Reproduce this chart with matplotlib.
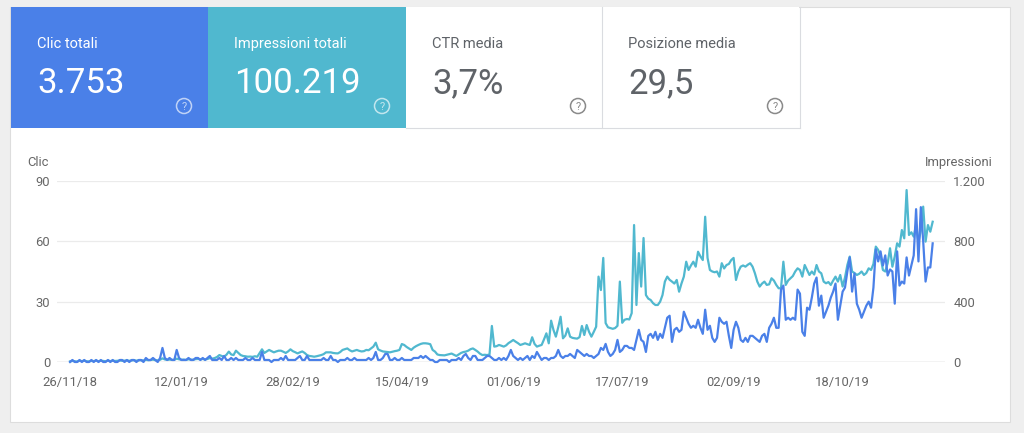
import numpy as np
import pandas as pd
import matplotlib
matplotlib.use('Agg')
from matplotlib import pyplot as plt
from matplotlib.patches import Rectangle, Circle
import matplotlib.dates as mdates

plt.rcParams['font.family'] = ['Roboto', 'DejaVu Sans']

##################
# Summary cards
card_titles = ['Clic totali', 'Impressioni totali', 'CTR media', 'Posizione media']
card_values = ['3.753', '100.219', '3,7%', '29,5']

##################
# Daily series (26/11/18 onwards)
start_date = '2018-11-26'

clicks = [
    0, 1, 0, 0, 1, 0, 1, 0, 0, 1,
    0, 1, 0, 1, 0, 0, 1, 0, 1, 0,
    0, 1, 1, 0, 1, 0, 1, 1, 0, 1,
    1, 0, 2, 1, 1, 2, 1, 0, 2, 7,
    2, 1, 2, 1, 1, 6, 2, 1, 1, 1,
    2, 1, 1, 2, 2, 1, 2, 1, 2, 3,
    1, 1, 1, 2, 1, 3, 1, 1, 2, 1,
    2, 1, 1, 1, 2, 1, 1, 2, 1, 1,
    1, 5, 1, 1, 1, 0, 1, 1, 1, 2,
    1, 3, 1, 1, 1, 1, 2, 3, 1, 1,
    3, 1, 1, 1, 1, 1, 1, 2, 1, 1,
    3, 1, 1, 0, 1, 1, 1, 2, 1, 1,
    2, 1, 1, 1, 1, 1, 2, 1, 2, 5,
    1, 1, 2, 4, 4, 1, 1, 2, 1, 1,
    2, 1, 1, 1, 1, 2, 2, 2, 3, 2,
    3, 2, 1, 1, 0, 0, 1, 1, 1, 1,
    0, 1, 1, 1, 2, 1, 3, 4, 2, 1,
    3, 3, 1, 1, 1, 2, 3, 3, 2, 1,
    1, 2, 1, 2, 1, 3, 6, 3, 2, 1,
    2, 1, 2, 3, 1, 3, 2, 5, 3, 1,
    2, 2, 1, 2, 2, 3, 6, 3, 2, 3,
    3, 4, 3, 2, 6, 5, 4, 3, 4, 3,
    3, 2, 3, 4, 7, 6, 9, 5, 3, 4,
    6, 11, 5, 6, 8, 8, 7, 7, 6, 11,
    16, 11, 10, 5, 13, 14, 12, 15, 11, 14,
    12, 17, 22, 23, 10, 16, 17, 15, 16, 25,
    22, 19, 17, 18, 17, 21, 17, 14, 26, 16,
    18, 12, 10, 12, 22, 20, 19, 20, 13, 7,
    16, 20, 17, 11, 10, 12, 10, 13, 13, 12,
    11, 10, 13, 14, 10, 17, 19, 22, 17, 17,
    36, 38, 21, 22, 21, 22, 21, 36, 34, 15,
    13, 27, 26, 32, 39, 42, 28, 33, 22, 25,
    28, 32, 35, 39, 21, 28, 35, 37, 45, 52,
    35, 44, 29, 26, 22, 25, 28, 30, 27, 37,
    56, 50, 55, 48, 53, 43, 46, 45, 29, 55,
    38, 40, 39, 52, 43, 48, 53, 76, 50, 77,
    60, 40, 47, 47, 59,
]

impressions = [
    4, 7, 5, 3, 8, 6, 8, 5, 4, 7,
    6, 9, 5, 8, 7, 5, 9, 6, 8, 7,
    8, 10, 8, 9, 11, 8, 10, 12, 9, 11,
    12, 10, 14, 12, 13, 16, 12, 11, 15, 24,
    17, 14, 16, 14, 15, 22, 18, 15, 16, 14,
    18, 16, 15, 19, 20, 18, 20, 17, 20, 26,
    22, 26, 33, 46, 40, 35, 48, 69, 50, 46,
    75, 60, 46, 40, 38, 35, 36, 34, 38, 35,
    60, 84, 60, 70, 80, 72, 64, 70, 75, 75,
    68, 60, 70, 84, 72, 65, 57, 64, 70, 60,
    46, 40, 38, 35, 38, 42, 46, 52, 64, 64,
    64, 60, 58, 57, 66, 80, 85, 90, 78, 70,
    75, 80, 74, 70, 72, 80, 78, 90, 102, 128,
    84, 76, 70, 68, 66, 64, 68, 72, 75, 80,
    119, 113, 100, 90, 80, 95, 105, 113, 120, 124,
    124, 122, 118, 80, 69, 50, 46, 45, 44, 48,
    52, 56, 48, 40, 50, 60, 66, 69, 75, 85,
    90, 80, 69, 55, 46, 48, 46, 50, 239, 102,
    105, 113, 108, 102, 110, 125, 135, 146, 135, 125,
    113, 118, 124, 118, 113, 164, 120, 102, 108, 113,
    150, 190, 124, 274, 212, 168, 230, 300, 157, 175,
    223, 168, 160, 157, 155, 165, 239, 179, 245, 200,
    168, 200, 234, 566, 477, 690, 258, 230, 225, 220,
    225, 240, 533, 260, 280, 285, 282, 324, 908, 378,
    722, 500, 822, 444, 420, 411, 390, 378, 378, 400,
    444, 533, 566, 545, 533, 520, 544, 466, 520, 566,
    665, 610, 640, 665, 632, 731, 700, 676, 963, 690,
    610, 600, 595, 600, 566, 655, 620, 643, 650, 676,
    690, 544, 600, 632, 640, 632, 645, 655, 632, 588,
    533, 500, 520, 533, 511, 515, 555, 540, 511, 489,
    489, 665, 511, 540, 555, 570, 600, 621, 610, 566,
    643, 610, 577, 600, 580, 643, 600, 588, 533, 522,
    530, 511, 540, 566, 533, 577, 500, 560, 643, 699,
    600, 590, 577, 585, 600, 577, 590, 621, 610, 650,
    765, 743, 699, 610, 600, 655, 754, 632, 700, 787,
    765, 875, 820, 1140, 842, 860, 831, 908, 798, 870,
    1030, 798, 908, 864, 930,
]

tick_dates = ['2018-11-26', '2019-01-12', '2019-02-28', '2019-04-15',
              '2019-06-01', '2019-07-17', '2019-09-02', '2019-10-18']
clic_ticks = [0, 30, 60, 90]
impr_ticks = [0, 400, 800, 1200]
impr_tick_labels = ['0', '400', '800', '1.200']

###################
# Colours
blue = '#4a80e8'
teal = '#50b8cf'
txt = '#666666'
W, H = 1024, 433

fig = plt.figure(figsize=(W/100, H/100), dpi=100)
fig.patch.set_facecolor('#efefef')

# background layer in pixel coordinates
bg = fig.add_axes([0, 0, 1, 1])
bg.set_xlim(0, W)
bg.set_ylim(H, 0)
bg.axis('off')

bg.add_patch(Rectangle((10, 7), 1000, 415, facecolor='white', edgecolor='#dddddd', lw=0.8))

tile_x = [11, 208, 406, 602]
tile_w = [197, 198, 196, 197]
tile_bg = [blue, teal, 'white', 'white']
for i in range(4):
    x0 = tile_x[i]
    bg.add_patch(Rectangle((x0, 7), tile_w[i], 121, facecolor=tile_bg[i], edgecolor='none'))
    fg = 'white' if i < 2 else '#5f6368'
    bg.text(x0 + 26, 48, card_titles[i], color=fg, fontsize=10.5, va='baseline', ha='left')
    bg.text(x0 + 26, 93, card_values[i], color=fg, fontsize=25, va='baseline', ha='left')
    icon = (1, 1, 1, 0.65) if i < 2 else '#8a8a8a'
    cx = x0 + tile_w[i] - 24
    bg.add_patch(Circle((cx, 106), 7.5, facecolor='none', edgecolor=icon, lw=1.1))
    bg.text(cx, 106.5, '?', color=icon, fontsize=8, ha='center', va='center')

# borders of the white tiles
bg.plot([602, 602], [7, 128], color='#dadce0', lw=0.8)
bg.plot([800, 800], [7, 128], color='#dadce0', lw=0.8)
bg.plot([406, 800], [128, 128], color='#dadce0', lw=0.8)

#############
# Chart
dates = pd.date_range(start_date, periods=len(clicks))
d0 = mdates.date2num(pd.Timestamp(start_date))

left, right, top, bottom = 57, 945, 181, 362
ax2 = fig.add_axes([left/W, 1 - bottom/H, (right-left)/W, (bottom-top)/H])
ax = ax2.twinx()
ax.set_zorder(ax2.get_zorder() + 1)
ax.patch.set_visible(False)
ax2.patch.set_visible(False)

ax2.plot(dates, impressions, color=teal, lw=1.6, clip_on=False)
ax.plot(dates, clicks, color=blue, lw=1.6, clip_on=False)

for v in impr_ticks[1:]:
    ax2.axhline(v, color='#ebebeb', lw=0.9, zorder=0)
ax2.axhline(0, color='#a0a0a0', lw=0.9, zorder=0)

ax.set_ylim(0, 90)
ax2.set_ylim(0, 1200)
ax2.set_xlim(d0 - 5.5, d0 + 369.2)

# clicks on the left, impressions on the right
ax.yaxis.tick_left()
ax2.yaxis.tick_right()
ax.set_yticks(clic_ticks)
ax2.set_yticks(impr_ticks)
ax2.set_yticklabels(impr_tick_labels)

ticks = pd.to_datetime(tick_dates)
ax2.set_xticks(ticks)
ax2.set_xticklabels([t.strftime('%d/%m/%y') for t in ticks])

for a in (ax, ax2):
    for s in a.spines.values():
        s.set_visible(False)
    a.tick_params(length=0, labelsize=9.4, colors=txt)
ax.tick_params(axis='y', pad=5)
ax2.tick_params(axis='y', pad=6)
ax2.tick_params(axis='x', pad=10)

bg.text(27, 166, 'Clic', color=txt, fontsize=9.4, ha='left', va='baseline')
bg.text(993, 166, 'Impressioni', color=txt, fontsize=9.4, ha='right', va='baseline')

fig.savefig('out.png', dpi=100, facecolor=fig.get_facecolor())
